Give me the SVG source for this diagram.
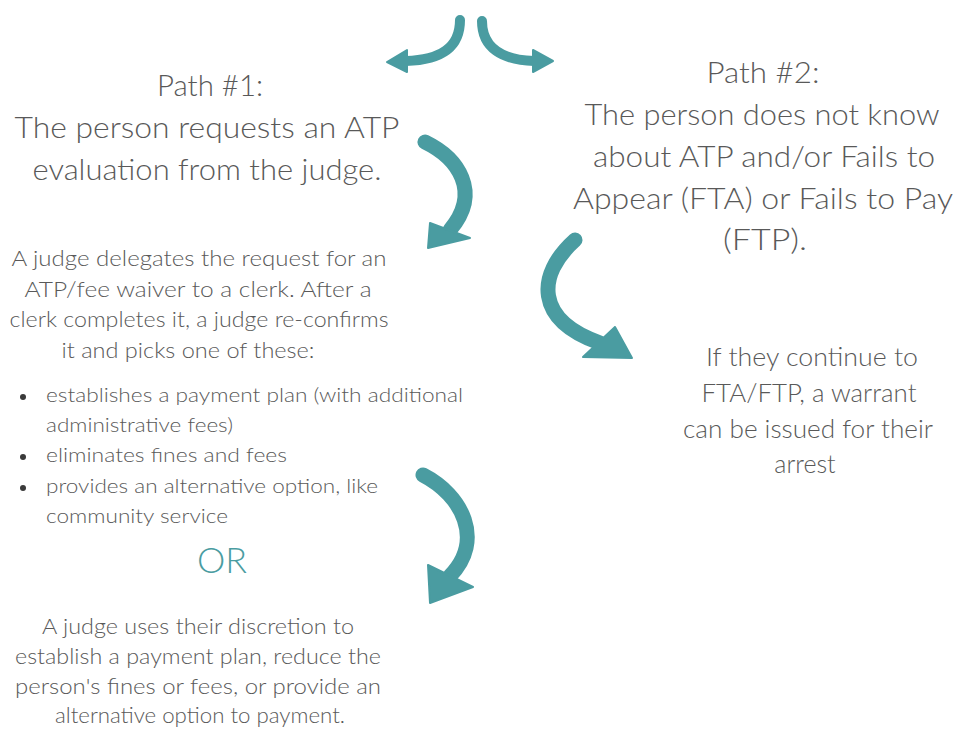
<svg xmlns="http://www.w3.org/2000/svg" width="956" height="729" viewBox="0 0 956 729">
<style>
.t{font-family:"Lato","Liberation Sans",sans-serif;font-weight:300;fill:#595959;text-anchor:middle}
.h{font-size:30px}
.b{font-size:21px}
.s{font-size:20px;text-anchor:start}
.m{font-size:25px}
.or{font-family:"Lato","Liberation Sans",sans-serif;font-weight:300;font-size:36px;fill:#4a9ca1;text-anchor:middle}
.shaft{fill:none;stroke:#4a9ca1;stroke-linecap:round}
.head{fill:#4a9ca1;stroke:#4a9ca1;stroke-width:2;stroke-linejoin:round}
.dot{fill:#3a3a3a}
</style>
<rect width="956" height="729" fill="#ffffff"/>
<g id="connectors">
<path class="shaft" stroke-width="10" d="M460,20 C460,48 440,60 406,61"/>
<polygon class="head" points="387,62 407,50 407,72"/>
<path class="shaft" stroke-width="10" d="M482,21 C482,48 502,60 534,61"/>
<polygon class="head" points="553,61 533,50 533,72"/>
<path class="shaft" stroke-width="15" d="M425,142 C458,158 482,192 450,230"/>
<polygon class="head" points="430,223 470,238 428,248"/>
<path class="shaft" stroke-width="15" d="M575,240 C536,275 535,320 600,343"/>
<polygon class="head" points="615,327 583,357 632,358"/>
<path class="shaft" stroke-width="15" d="M423,475 C462,495 485,540 450,576"/>
<polygon class="head" points="428,565 473,587 430,603"/>
</g>
<g id="path1">
<text class="t h" x="210" y="96" textLength="106" lengthAdjust="spacingAndGlyphs">Path #1:</text>
<text class="t h" x="207" y="138" textLength="385" lengthAdjust="spacingAndGlyphs">The person requests an ATP</text>
<text class="t h" x="207" y="180" textLength="349" lengthAdjust="spacingAndGlyphs">evaluation from the judge.</text>
</g>
<g id="path2">
<text class="t h" x="763" y="83" textLength="113" lengthAdjust="spacingAndGlyphs">Path #2:</text>
<text class="t h" x="762" y="125" textLength="355" lengthAdjust="spacingAndGlyphs">The person does not know</text>
<text class="t h" x="764" y="167" textLength="342" lengthAdjust="spacingAndGlyphs">about ATP and/or Fails to</text>
<text class="t h" x="763" y="209" textLength="380" lengthAdjust="spacingAndGlyphs">Appear (FTA) or Fails to Pay</text>
<text class="t h" x="765" y="250" textLength="84" lengthAdjust="spacingAndGlyphs">(FTP).</text>
</g>
<g id="warrant">
<text class="t m" x="812" y="366" textLength="212" lengthAdjust="spacingAndGlyphs">If they continue to</text>
<text class="t m" x="809" y="402" textLength="215" lengthAdjust="spacingAndGlyphs">FTA/FTP, a warrant</text>
<text class="t m" x="808" y="438" textLength="250" lengthAdjust="spacingAndGlyphs">can be issued for their</text>
<text class="t m" x="805" y="473">arrest</text>
</g>
<g id="delegate">
<text class="t b" x="199" y="266" textLength="375" lengthAdjust="spacingAndGlyphs">A judge delegates the request for an</text>
<text class="t b" x="198" y="297" textLength="347" lengthAdjust="spacingAndGlyphs">ATP/fee waiver to a clerk. After a</text>
<text class="t b" x="199" y="327" textLength="379" lengthAdjust="spacingAndGlyphs">clerk completes it, a judge re-confirms</text>
<text class="t b" x="188" y="358" textLength="253" lengthAdjust="spacingAndGlyphs">it and picks one of these:</text>
<circle class="dot" cx="23" cy="397" r="3"/>
<circle class="dot" cx="23" cy="457" r="3"/>
<circle class="dot" cx="23" cy="488" r="3"/>
<text class="t s" x="46" y="402" textLength="417" lengthAdjust="spacingAndGlyphs">establishes a payment plan (with additional</text>
<text class="t s" x="46" y="432" textLength="187" lengthAdjust="spacingAndGlyphs">administrative fees)</text>
<text class="t s" x="46" y="462" textLength="241" lengthAdjust="spacingAndGlyphs">eliminates fines and fees</text>
<text class="t s" x="46" y="493" textLength="332" lengthAdjust="spacingAndGlyphs">provides an alternative option, like</text>
<text class="t s" x="46" y="523" textLength="182" lengthAdjust="spacingAndGlyphs">community service</text>
</g>
<g id="or">
<text class="or" x="222" y="573" textLength="50" lengthAdjust="spacingAndGlyphs">OR</text>
</g>
<g id="discretion">
<text class="t b" x="198" y="634" textLength="312" lengthAdjust="spacingAndGlyphs">A judge uses their discretion to</text>
<text class="t b" x="198" y="664" textLength="366" lengthAdjust="spacingAndGlyphs">establish a payment plan, reduce the</text>
<text class="t b" x="198" y="694" textLength="366" lengthAdjust="spacingAndGlyphs">person's fines or fees, or provide an</text>
<text class="t b" x="200" y="723" textLength="290" lengthAdjust="spacingAndGlyphs">alternative option to payment.</text>
</g>
</svg>
